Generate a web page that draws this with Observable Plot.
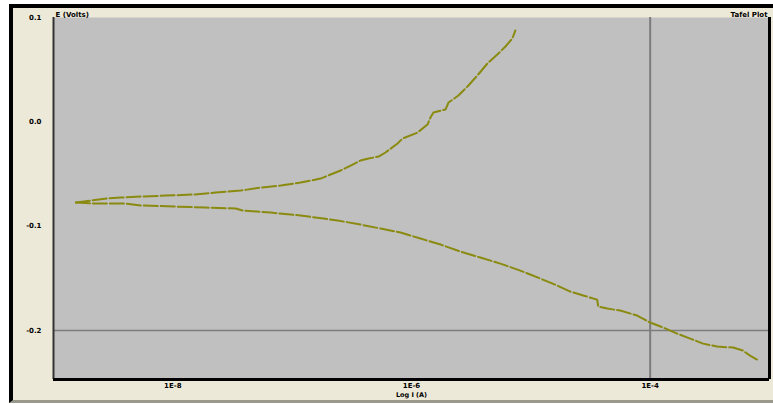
<!DOCTYPE html>
<html>
<head>
<meta charset="utf-8">
<script src="https://cdn.jsdelivr.net/npm/d3@7"></script>
<script src="https://cdn.jsdelivr.net/npm/@observablehq/plot@0.6"></script>
<style>
  html, body { margin: 0; padding: 0; background: #ffffff; }
  #frame {
    position: absolute; left: 9px; top: 4px; width: 760px; height: 392px;
    border-left: 4px solid #000; border-top: 4px solid #000; border-bottom: 3px solid #9a9a8c;
    background: #ECE9D8;
  }
  #frame svg { display: block; }
</style>
</head>
<body>
<div id="frame"></div>
<script>
// Anodic (upper) branch: log current (A) and potential (V)
const upperLogI = [-8.812,-8.686,-8.552,-8.435,-8.268,-8.059,-7.824,-7.640,-7.431,-7.264,-7.096,-6.929,-6.762,-6.678,-6.594,-6.510,-6.427,-6.360,-6.276,-6.218,-6.117,-6.075,-5.950,-5.866,-5.841,-5.816,-5.715,-5.690,-5.607,-5.523,-5.448,-5.364,-5.272,-5.213,-5.155,-5.130];
const upperE    = [-0.0774,-0.0755,-0.0735,-0.0726,-0.0716,-0.0707,-0.0697,-0.0678,-0.0659,-0.0630,-0.0611,-0.0582,-0.0544,-0.0505,-0.0467,-0.0419,-0.0371,-0.0352,-0.0333,-0.0294,-0.0208,-0.0160,-0.0103,-0.0026,0.0041,0.0089,0.0118,0.0185,0.0252,0.0348,0.0444,0.0559,0.0655,0.0722,0.0799,0.0875];
// Cathodic (lower) branch
const lowerLogI = [-8.812,-8.669,-8.410,-8.268,-7.992,-7.724,-7.473,-7.414,-7.180,-6.929,-6.736,-6.619,-6.427,-6.259,-6.092,-5.925,-5.757,-5.590,-5.423,-5.255,-5.088,-4.921,-4.778,-4.669,-4.561,-4.444,-4.435,-4.360,-4.251,-4.109,-4.000,-3.891,-3.774,-3.665,-3.556,-3.439,-3.305,-3.222,-3.163,-3.105];
const lowerE    = [-0.0774,-0.0783,-0.0783,-0.0802,-0.0812,-0.0822,-0.0831,-0.0850,-0.0870,-0.0898,-0.0927,-0.0946,-0.0985,-0.1023,-0.1061,-0.1119,-0.1176,-0.1244,-0.1301,-0.1359,-0.1426,-0.1502,-0.1570,-0.1627,-0.1665,-0.1704,-0.1771,-0.1790,-0.1809,-0.1857,-0.1924,-0.1972,-0.2030,-0.2078,-0.2126,-0.2154,-0.2164,-0.2193,-0.2241,-0.2279];

const xTicks = [-8, -6, -4];
const xTickLabels = ["1E-8", "1E-6", "1E-4"];
const yTicks = [-0.2, -0.1, 0.0, 0.1];
const yTickLabels = ["-0.2", "-0.1", "0.0", "0.1"];
const xTitle = "Log I (A)";
const yTitle = "E (Volts)";
const chartTitle = "Tafel Plot";
const gridX = [-4];
const gridY = [-0.2];

const upper = upperLogI.map((x, i) => ({x, y: upperE[i]}));
const lower = lowerLogI.map((x, i) => ({x, y: lowerE[i]}));

const xDomain = [-9, -3];
const yDomain = [-0.247, 0.1];
const lineColor = "#8a8a10";

const chart = Plot.plot({
  width: 760,
  height: 392,
  marginLeft: 40,
  marginRight: 4,
  marginTop: 9,
  marginBottom: 21,
  style: {background: "transparent", fontSize: "7px", fontFamily: "DejaVu Sans", color: "#000", fontWeight: "bold"},
  x: {domain: xDomain, ticks: xTicks, tickFormat: d => xTickLabels[xTicks.indexOf(d)], tickSize: 0, tickPadding: 4, label: null},
  y: {domain: yDomain, ticks: yTicks, tickFormat: d => yTickLabels[yTicks.findIndex(t => Math.abs(t - d) < 1e-9)], tickSize: 0, tickPadding: 12, label: null},
  marks: [
    Plot.frame({fill: "#c0c0c0", stroke: null}),
    Plot.ruleX(gridX, {stroke: "#7c7c7c", strokeWidth: 2}),
    Plot.ruleY(gridY, {stroke: "#7c7c7c", strokeWidth: 1.5}),
    Plot.line(upper, {x: "x", y: "y", stroke: lineColor, strokeWidth: 2, strokeDasharray: "14,3"}),
    Plot.line(lower, {x: "x", y: "y", stroke: lineColor, strokeWidth: 2, strokeDasharray: "14,3"}),
    Plot.ruleX([xDomain[0]], {stroke: "#333", strokeWidth: 2}),
    Plot.ruleX([xDomain[1]], {stroke: "#000", strokeWidth: 3}),
    Plot.ruleY([yDomain[0]], {stroke: "#000", strokeWidth: 3}),
    Plot.text([xTitle], {frameAnchor: "bottom", dy: 17.5, textAnchor: "middle", fontSize: 6.5}),
    Plot.text([yTitle], {frameAnchor: "top-left", dx: 2, dy: -5, textAnchor: "start", fontSize: 7}),
    Plot.text([chartTitle], {frameAnchor: "top-right", dx: -2, dy: -5, textAnchor: "end", fontSize: 7})
  ]
});
document.getElementById("frame").appendChild(chart);
</script>
</body>
</html>
